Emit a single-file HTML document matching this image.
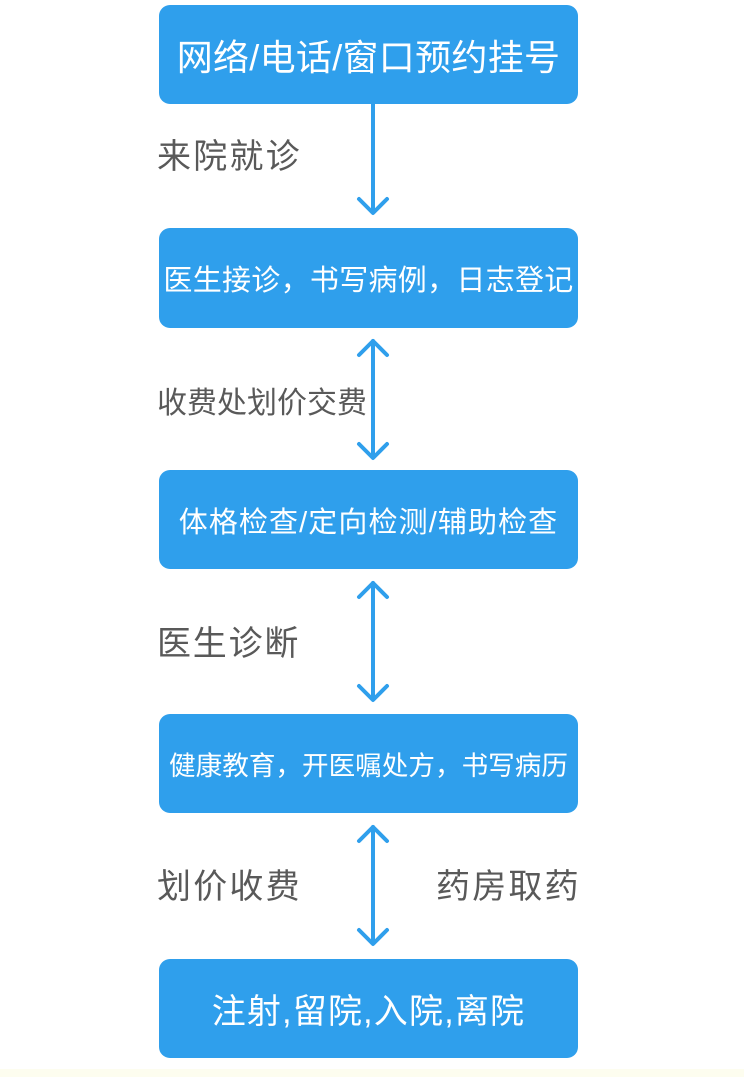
<!DOCTYPE html>
<html><head><meta charset="utf-8"><style>
html,body{margin:0;padding:0;}
body{width:744px;height:1077px;position:relative;background:#fff;overflow:hidden;font-family:"Liberation Sans","Noto Sans CJK SC",sans-serif;}
.box{position:absolute;left:159px;width:419px;background:#2f9fec;border-radius:11px;color:#fff;display:flex;align-items:center;justify-content:center;white-space:nowrap;}
.lbl{position:absolute;color:#595959;white-space:nowrap;line-height:1;}
.strip{position:absolute;left:0;top:1069px;width:744px;height:8px;background:#fdfdef;}
svg{position:absolute;left:0;top:0;}
</style></head><body>
<div class="box" style="top:5px;height:99px;font-size:36px;letter-spacing:0.3px;">网络/电话/窗口预约挂号</div>
<div class="box" style="top:228px;height:100px;font-size:29px;letter-spacing:0.3px;">医生接诊，书写病例，日志登记</div>
<div class="box" style="top:470px;height:99px;font-size:29px;letter-spacing:1.1px;">体格检查/定向检测/辅助检查</div>
<div class="box" style="top:714px;height:99px;font-size:26.6px;">健康教育，开医嘱处方，书写病历</div>
<div class="box" style="top:959px;height:99px;font-size:34px;letter-spacing:1.2px;">注射,留院,入院,离院</div>

<div class="lbl" style="left:157px;top:140px;font-size:34px;letter-spacing:2.2px;">来院就诊</div>
<div class="lbl" style="left:157px;top:389px;font-size:30px;">收费处划价交费</div>
<div class="lbl" style="left:157px;top:627px;font-size:34px;letter-spacing:1.8px;">医生诊断</div>
<div class="lbl" style="left:157px;top:870px;font-size:34px;letter-spacing:2.2px;">划价收费</div>
<div class="lbl" style="left:436px;top:870px;font-size:34px;letter-spacing:2.2px;">药房取药</div>

<svg width="744" height="1077" viewBox="0 0 744 1077">
<g stroke="#2f9fec" stroke-width="4" fill="none" stroke-linecap="round" stroke-linejoin="round">
<line x1="373" y1="104" x2="373" y2="212"/>
<polyline points="359,199 373,213 387,199"/>
<line x1="373" y1="341" x2="373" y2="457"/>
<polyline points="359,355 373,341 387,355"/>
<polyline points="359,444 373,458 387,444"/>
<line x1="373" y1="583" x2="373" y2="699"/>
<polyline points="359,597 373,583 387,597"/>
<polyline points="359,686 373,700 387,686"/>
<line x1="373" y1="827" x2="373" y2="943"/>
<polyline points="359,841 373,827 387,841"/>
<polyline points="359,930 373,944 387,930"/>
</g>
</svg>
<div class="strip"></div>
</body></html>
